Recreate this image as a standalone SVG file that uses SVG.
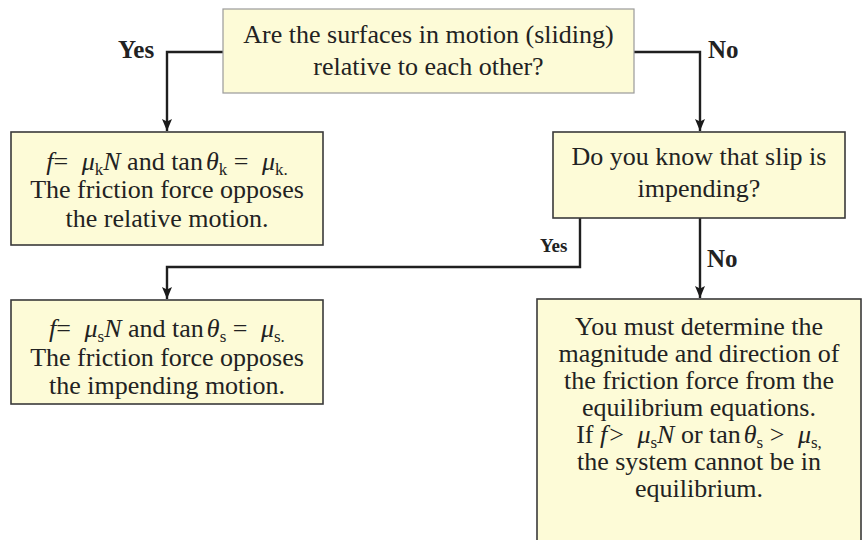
<svg xmlns="http://www.w3.org/2000/svg" width="864" height="540" viewBox="0 0 864 540">
  <defs>
    <marker id="arr" markerWidth="13" markerHeight="10" refX="12" refY="5" orient="auto" markerUnits="userSpaceOnUse" viewBox="0 0 13 10">
      <path d="M0,0 L12,5 L0,10 L2.5,5 Z" fill="#1a1a1a"/>
    </marker>
    <style>
      .box { fill: #fdfbd7; stroke: #3a3a3a; stroke-width: 1.6; }
      .light { stroke: #9a9a9a; stroke-width: 1.2; }
      .t { font-family: "Liberation Serif", "Times New Roman", serif; font-size: 26px; fill: #222; text-anchor: middle; }
      .lbl { font-family: "Liberation Serif", "Times New Roman", serif; font-size: 25px; font-weight: bold; fill: #222; }
      .lbls { font-family: "Liberation Serif", "Times New Roman", serif; font-size: 19px; font-weight: bold; fill: #222; }
      .i { font-style: italic; }
      .sub { font-size: 17px; }
      .conn { fill: none; stroke: #1f1f1f; stroke-width: 2.4; }
    </style>
  </defs>

  <g id="connectors">
    <path class="conn" d="M223,52 H167 V131" marker-end="url(#arr)"/>
    <path class="conn" d="M634,52 H700 V131" marker-end="url(#arr)"/>
    <path class="conn" d="M580,218 V267 H167 V299" marker-end="url(#arr)"/>
    <path class="conn" d="M700,218 V298" marker-end="url(#arr)"/>
    <text class="lbl" x="118" y="58">Yes</text>
    <text class="lbl" x="708" y="58">No</text>
    <text class="lbls" x="540" y="252">Yes</text>
    <text class="lbl" x="707" y="267">No</text>
  </g>

  <g id="q1">
    <rect class="box light" x="223" y="9" width="411" height="84"/>
    <text class="t" x="428.5" y="43">Are the surfaces in motion (sliding)</text>
    <text class="t" x="428.5" y="75">relative to each other?</text>
  </g>

  <g id="kinetic">
    <rect class="box" x="11" y="132" width="312" height="113"/>
    <text class="t" x="167" y="170"><tspan class="i">f</tspan>= <tspan class="i" dx="7">μ</tspan><tspan class="sub" dy="5">k</tspan><tspan class="i" dy="-5">N</tspan> and tan<tspan class="i" dx="3">θ</tspan><tspan class="sub" dy="5">k</tspan><tspan dy="-5"> = </tspan><tspan class="i" dx="7">μ</tspan><tspan class="sub" dy="5">k.</tspan></text>
    <text class="t" x="167" y="198">The friction force opposes</text>
    <text class="t" x="167" y="227">the relative motion.</text>
  </g>

  <g id="q2">
    <rect class="box" x="553" y="132" width="292" height="86"/>
    <text class="t" x="699" y="165">Do you know that slip is</text>
    <text class="t" x="699" y="197">impending?</text>
  </g>

  <g id="static">
    <rect class="box" x="11" y="300" width="312" height="104"/>
    <text class="t" x="167" y="337"><tspan class="i">f</tspan>= <tspan class="i" dx="7">μ</tspan><tspan class="sub" dy="5">s</tspan><tspan class="i" dy="-5">N</tspan> and tan<tspan class="i" dx="3">θ</tspan><tspan class="sub" dy="5">s</tspan><tspan dy="-5"> = </tspan><tspan class="i" dx="7">μ</tspan><tspan class="sub" dy="5">s.</tspan></text>
    <text class="t" x="167" y="366">The friction force opposes</text>
    <text class="t" x="167" y="394">the impending motion.</text>
  </g>

  <g id="equilibrium">
    <rect class="box" x="537" y="299" width="324" height="250"/>
    <text class="t" x="699" y="335">You must determine the</text>
    <text class="t" x="699" y="362">magnitude and direction of</text>
    <text class="t" x="699" y="389">the friction force from the</text>
    <text class="t" x="699" y="416">equilibrium equations.</text>
    <text class="t" x="699" y="443">If <tspan class="i">f</tspan><tspan dx="2">&gt; </tspan><tspan class="i" dx="7">μ</tspan><tspan class="sub" dy="5">s</tspan><tspan class="i" dy="-5">N</tspan> or tan<tspan class="i" dx="3">θ</tspan><tspan class="sub" dy="5">s</tspan><tspan dy="-5"> &gt; </tspan><tspan class="i" dx="7">μ</tspan><tspan class="sub" dy="5">s,</tspan></text>
    <text class="t" x="699" y="470">the system cannot be in</text>
    <text class="t" x="699" y="497">equilibrium.</text>
  </g>
</svg>
